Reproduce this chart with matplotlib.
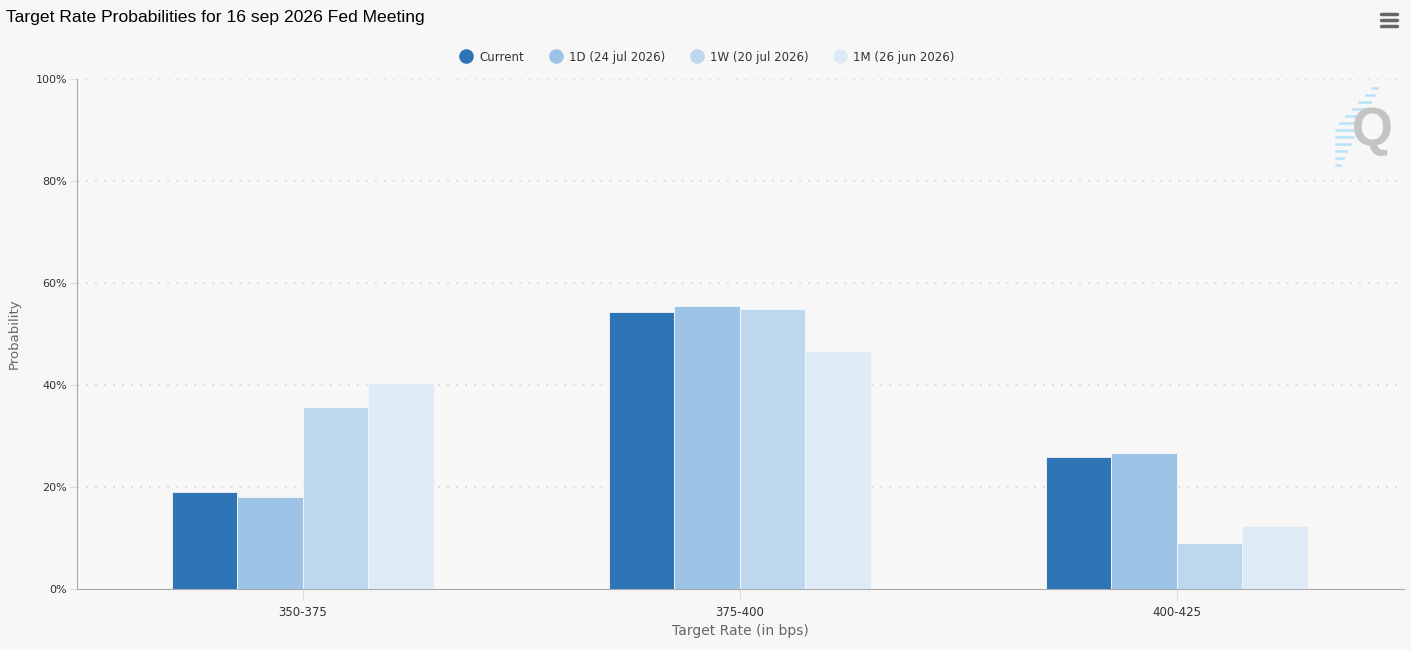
import numpy as np
import matplotlib.pyplot as plt
from matplotlib.lines import Line2D

categories = ["350-375", "375-400", "400-425"]
series_names = ["Current", "1D (24 jul 2026)", "1W (20 jul 2026)", "1M (26 jun 2026)"]
current = [19.1, 54.4, 25.9]
day1 = [18.0, 55.4, 26.6]
week1 = [35.7, 54.9, 9.1]
month1 = [40.4, 46.7, 12.3]
yticks = [0, 20, 40, 60, 80, 100]

colors = ["#2e75b6", "#9dc3e6", "#bdd7ee", "#deebf7"]
bg = "#f7f7f7"

fig = plt.figure(figsize=(14.11, 6.5), dpi=100, facecolor=bg)
ax = fig.add_axes([0.0546, 0.0938, 0.9404, 0.7847], facecolor=bg)

x = np.arange(len(categories))
w = 0.15
for i, vals in enumerate([current, day1, week1, month1]):
    ax.bar(x + (i - 1.5) * w, vals, width=w, color=colors[i],
           edgecolor=bg, linewidth=0.6, zorder=3)

ax.set_xlim(-0.517, 2.52)
ax.set_ylim(0, 100)
ax.set_yticks(yticks)
ax.set_yticklabels([f"{v}%" for v in yticks], fontsize=8, color="#333333")
ax.set_xticks(x)
ax.set_xticklabels(categories, fontsize=8.5, color="#333333")

# dotted grid
for v in yticks[1:]:
    ax.axhline(v, color="#d8d8d8", linestyle=(0, (1, 4)), linewidth=1.3, zorder=1)

for s in ["top", "right"]:
    ax.spines[s].set_visible(False)
ax.spines["left"].set_color("#aaaaaa")
ax.spines["bottom"].set_color("#aaaaaa")
ax.tick_params(axis="y", length=5, color="#dddddd", pad=2)
ax.tick_params(axis="x", length=8, color="#dddddd", pad=4)

ax.set_ylabel("Probability", fontsize=9.5, color="#666666", labelpad=11)
ax.set_xlabel("Target Rate (in bps)", fontsize=10, color="#666666", labelpad=4)

fig.text(0.004, 0.973, "Target Rate Probabilities for 16 sep 2026 Fed Meeting",
         fontsize=12.6, family="Liberation Sans", color="#000000", va="center")

handles = [Line2D([], [], marker="o", linestyle="none", markersize=9.5,
                  markerfacecolor=c, markeredgecolor=c) for c in colors]
ax.legend(handles, series_names, loc="center", bbox_to_anchor=(0.475, 1.043),
          ncol=4, frameon=False, fontsize=8.5, labelcolor="#333333",
          handlelength=1.0, columnspacing=2.2, handletextpad=0.6)

# menu icon
for dy in [0.960, 0.969, 0.978]:
    fig.add_artist(Line2D([0.9787, 0.9901], [dy, dy], color="#666666",
                          linewidth=2.5, solid_capstyle="round"))

# watermark logo
for k in range(12):
    yy = 88 + k * 7
    right = 1377 - k * 3.4
    left = max(1336, 1372 - k * 6.5)
    fig.add_artist(Line2D([left / 1411, right / 1411], [1 - yy / 650, 1 - yy / 650],
                          color="#b6e3f7", linewidth=1.8))
fig.text(1372 / 1411, 1 - 131 / 650, "Q", fontsize=38, fontweight="bold",
         family="Liberation Sans", color="#c4c4c4", ha="center", va="center")

fig.savefig("out.png", dpi=100, facecolor=bg)
